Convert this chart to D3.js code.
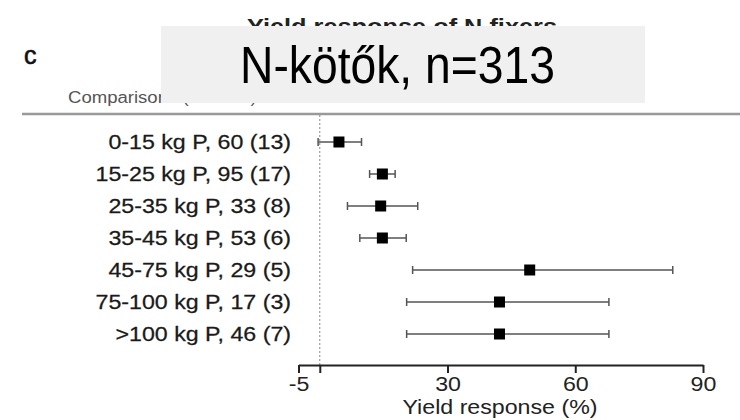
<!DOCTYPE html>
<html>
<head>
<meta charset="utf-8">
<script src="https://cdn.jsdelivr.net/npm/d3@7"></script>
<style>
  body { margin: 0; background: #fff; }
  svg text { font-family: "Liberation Sans", Arial, Helvetica, sans-serif; }
</style>
</head>
<body>
<div id="canvas"></div>
<script>
"use strict"

let drawingWidth = 740;
let drawingHeight = 420;
let stretch = 1.16; // the source picture is a bit wider than tall

// data
let comparisons = ["0-15 kg P, 60 (13)", "15-25 kg P, 95 (17)", "25-35 kg P, 33 (8)",
                   "35-45 kg P, 53 (6)", "45-75 kg P, 29 (5)", "75-100 kg P, 17 (3)",
                   ">100 kg P, 46 (7)"];
let meanResponse = [4.5, 14.7, 14.3, 14.7, 49.3, 42.2, 42.2];
let lowerCI = [-0.4, 11.7, 6.5, 9.4, 21.8, 20.4, 20.4];
let upperCI = [9.8, 17.7, 23.0, 20.3, 82.9, 67.9, 67.9];
let tickValues = [-5, 0, 30, 60, 90];
let tickLabels = ["-5", "", "30", "60", "90"];

let rows = comparisons.map((c, i) => ({
    label: c, mean: meanResponse[i], lo: lowerCI[i], hi: upperCI[i]
}));

let drawing = d3.select("#canvas")
    .append("svg")
    .attr("width", drawingWidth)
    .attr("height", drawingHeight);

let x = d3.scaleLinear().domain([-5, 90]).range([298.5, 703]);
let y = d3.scalePoint().domain(comparisons).range([142, 334]);

/* title, mostly covered by the grey box */
drawing.append("text")
    .attr("x", 402 - 155)
    .attr("y", 34)
    .attr("textLength", 310)
    .attr("lengthAdjust", "spacingAndGlyphs")
    .attr("font-size", 22)
    .attr("font-weight", "bold")
    .attr("fill", "#222")
    .text("Yield response of N fixers");

drawing.append("text")
    .attr("x", 24)
    .attr("y", 64)
    .attr("font-size", 25)
    .attr("fill", "#111")
    .attr("stroke", "#111")
    .attr("stroke-width", 0.6)
    .text("c");

drawing.append("text")
    .attr("transform", `translate(68,103) scale(${stretch},1)`)
    .attr("font-size", 16)
    .attr("fill", "#555")
    .text("Comparisons (Studies)");

drawing.append("line")
    .attr("x1", 22).attr("x2", drawingWidth)
    .attr("y1", 114).attr("y2", 114)
    .attr("stroke", "#999")
    .attr("stroke-width", 2.5);

/* overlay box */
drawing.append("rect")
    .attr("x", 161).attr("y", 26)
    .attr("width", 484).attr("height", 77)
    .attr("fill", "#f0f0f0");

drawing.append("text")
    .attr("x", 240)
    .attr("y", 83)
    .attr("textLength", 315)
    .attr("lengthAdjust", "spacingAndGlyphs")
    .attr("font-size", 51)
    .attr("fill", "#000")
    .text("N-kötők, n=313");

/* zero reference line */
drawing.append("line")
    .attr("x1", x(0)).attr("x2", x(0))
    .attr("y1", 115).attr("y2", 365)
    .attr("stroke", "#888")
    .attr("stroke-width", 1)
    .attr("stroke-dasharray", "2,2");

/* row labels */
drawing.selectAll(".rowLabel")
    .data(rows)
    .join("text")
    .attr("class", "rowLabel")
    .attr("transform", d => `translate(291,${y(d.label) + 7}) scale(${stretch},1)`)
    .attr("text-anchor", "end")
    .attr("font-size", 20)
    .attr("fill", "#1a1a1a")
    .attr("stroke", "#1a1a1a")
    .attr("stroke-width", 0.25)
    .text(d => d.label);

/* confidence intervals */
let ci = drawing.selectAll(".ci")
    .data(rows)
    .join("g")
    .attr("class", "ci")
    .attr("stroke", "#555")
    .attr("stroke-width", 1.5);

ci.append("line")
    .attr("x1", d => x(d.lo)).attr("x2", d => x(d.hi))
    .attr("y1", d => y(d.label)).attr("y2", d => y(d.label));
ci.append("line")
    .attr("x1", d => x(d.lo)).attr("x2", d => x(d.lo))
    .attr("y1", d => y(d.label) - 4).attr("y2", d => y(d.label) + 4);
ci.append("line")
    .attr("x1", d => x(d.hi)).attr("x2", d => x(d.hi))
    .attr("y1", d => y(d.label) - 4).attr("y2", d => y(d.label) + 4);

drawing.selectAll(".mean")
    .data(rows)
    .join("rect")
    .attr("class", "mean")
    .attr("x", d => x(d.mean) - 5.5)
    .attr("y", d => y(d.label) - 5.5)
    .attr("width", 11)
    .attr("height", 11)
    .attr("fill", "#000");

/* x axis */
let axis = drawing.append("g")
    .attr("transform", "translate(0,365)")
    .call(d3.axisBottom(x)
        .tickValues(tickValues)
        .tickFormat((d, i) => tickLabels[i])
        .tickSize(8)
        .tickSizeOuter(0));

axis.select(".domain").attr("stroke", "#222").attr("stroke-width", 2);
axis.selectAll(".tick line").attr("stroke", "#222").attr("stroke-width", 2);
axis.selectAll(".tick text")
    .attr("font-size", 20)
    .attr("fill", "#222")
    .attr("y", 12)
    .attr("transform", `scale(${stretch},1)`);

drawing.append("text")
    .attr("transform", `translate(500,414) scale(${stretch},1)`)
    .attr("text-anchor", "middle")
    .attr("font-size", 20)
    .attr("fill", "#222")
    .text("Yield response (%)");
</script>
</body>
</html>
